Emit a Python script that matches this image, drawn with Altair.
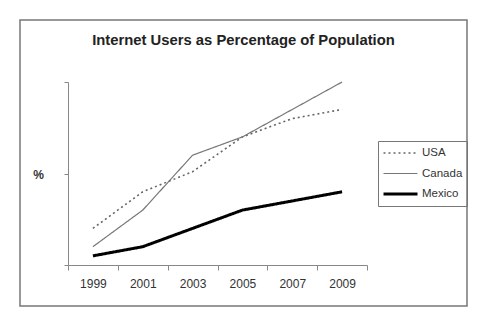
import altair as alt
import pandas as pd

years = ["1999", "2001", "2003", "2005", "2007", "2009"]
usa = [20, 40, 51, 70, 80, 85]
canada = [10, 30, 60, 70, 85, 100]
mexico = [5, 10, 20, 30, 35, 40]
countries = ["USA", "Canada", "Mexico"]
y_ticks = [0, 50, 100]
title_text = "Internet Users as Percentage of Population"

rows = []
for c, vals in zip(countries, [usa, canada, mexico]):
    for yr, v in zip(years, vals):
        rows.append({"year": yr, "country": c, "pct": v})
df = pd.DataFrame(rows)

FONT = "Liberation Sans"

leg = alt.Legend(
    title=None, orient="none", legendX=310, legendY=59,
    symbolType="stroke", symbolSize=1156, labelFontSize=11.5, labelFont=FONT,
    labelColor="#333", strokeColor="#777", padding=4, labelOffset=3,
    clipHeight=16, rowPadding=4.5,
)

lines = alt.Chart(df).mark_line().encode(
    x=alt.X("year:O", sort=years, bandPosition=0.5,
            scale=alt.Scale(type="band", paddingInner=0, paddingOuter=0),
            axis=alt.Axis(title=None, tickBand="extent", labelAngle=0,
                          domainColor="#888", tickColor="#888", tickSize=5,
                          labelFont=FONT, labelFontSize=12, labelColor="#333",
                          labelPadding=8, grid=False)),
    y=alt.Y("pct:Q", scale=alt.Scale(domain=[0, 100], nice=False),
            axis=alt.Axis(values=y_ticks, labels=False, title="%", titleAngle=0,
                          titleX=-30, titleY=92, titleAlign="center",
                          titleBaseline="middle", titleFont=FONT,
                          titleFontSize=12, titleFontWeight="bold", titleColor="#333",
                          domainColor="#888", tickColor="#888", tickSize=4,
                          grid=False)),
    color=alt.Color("country:N", scale=alt.Scale(domain=countries, range=["#666", "#777", "#000"]), legend=leg),
    strokeDash=alt.StrokeDash("country:N", scale=alt.Scale(domain=countries, range=[[2, 3], [1, 0], [1, 0]]), legend=leg),
    strokeWidth=alt.StrokeWidth("country:N", scale=alt.Scale(type="ordinal", domain=countries, range=[1.6, 1.2, 3]), legend=leg),
)

frame = alt.Chart(alt.Data(values=[{}])).mark_rect(
    fill="transparent", stroke="#777", strokeWidth=1.5
).encode(
    x=alt.value(-48), x2=alt.value(399), y=alt.value(-62), y2=alt.value(224)
)

title = alt.Chart(alt.Data(values=[{}])).mark_text(
    font=FONT, fontSize=14.8, fontWeight="bold", color="#222",
    align="center", baseline="middle"
).encode(
    text=alt.value(title_text), x=alt.value(175.5), y=alt.value(-41)
)

chart = alt.layer(frame, title, lines).properties(
    width=299, height=183,
    padding={"left": 68, "top": 82, "right": 120, "bottom": 58},
    autosize=alt.AutoSizeParams(type="none"),
    background="white",
).configure_view(stroke=None)

chart.save("out.html", embed_options={"renderer": "svg", "actions": False})
